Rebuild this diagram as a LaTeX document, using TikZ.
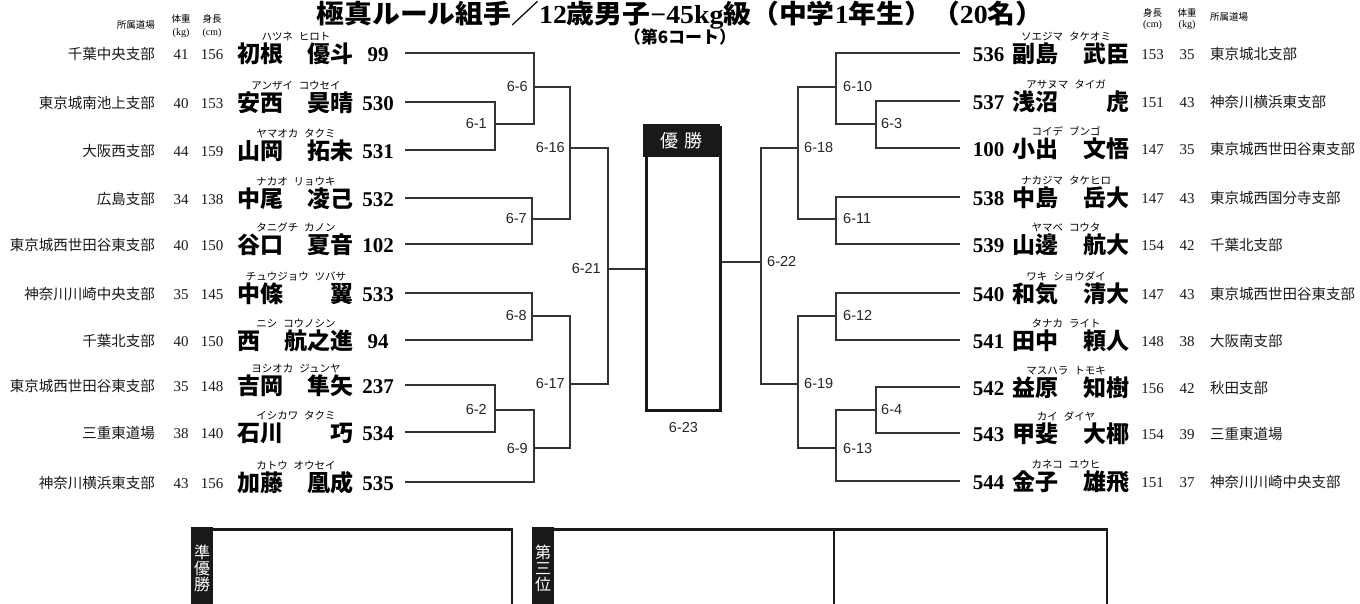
\documentclass[tikz,border=0pt]{standalone}
\usepackage{graphicx}
\usepackage{fontspec}
\setmainfont{Liberation Serif}
\newfontfamily\jp{Noto Sans CJK JP}
\newfontfamily\lab{Liberation Sans}
\newcommand\fsz[1]{\fontsize{#1}{#1}\selectfont}
\begin{document}
\begin{tikzpicture}[x=1pt,y=-1pt,
  lbl/.style={font=\lab\fsz{14.5}, inner sep=0pt, text=black!85},
  br/.style={line width=1.1pt, draw=black!80},
  dojo/.style={font=\jp\fsz{14.5}, inner sep=0pt, text=black!90},
  num/.style={font=\fsz{15}, inner sep=0pt, anchor=base, text=black!90},
  nm/.style={font=\jp\bfseries\fsz{23}, inner sep=0pt},
  bnum/.style={font=\bfseries\fsz{21}, inner sep=0pt, anchor=base},
  furi/.style={font=\jp\fsz{10.5}, inner sep=0pt, anchor=base},
  hd/.style={font=\jp\fsz{9.5}, inner sep=0pt},
  hdu/.style={font=\fsz{10}, inner sep=0pt},
]
\useasboundingbox (0,0) rectangle (1360,603);
\fill[white] (0,0) rectangle (1360,603);

% title
\node[anchor=base, inner sep=0pt] (title) at (680,23)
  {\scalebox{1.07}[1]{\fsz{26}{\jp\bfseries 極真ルール組手／}{\bfseries 12}{\jp\bfseries 歳男子}{\bfseries −45kg}{\jp\bfseries 級（中学}{\bfseries 1}{\jp\bfseries 年生）（}{\bfseries 20}{\jp\bfseries 名）}}};
\node[anchor=base, inner sep=0pt, font=\jp\bfseries\fsz{17}] (sub) at (680,43) {（第6コート）};

% headers left
\node[hd, anchor=east] (hL1) at (155,25) {所属道場};
\node[hd] (hL2) at (181,19) {体重};
\node[hdu] (hL3) at (181,33) {(kg)};
\node[hd] (hL4) at (212,19) {身長};
\node[hdu] (hL5) at (212,33) {(cm)};
% headers right
\node[hd] (hR1) at (1152.5,13) {身長};
\node[hdu] (hR2) at (1152.5,25) {(cm)};
\node[hd] (hR3) at (1187,13) {体重};
\node[hdu] (hR4) at (1187,25) {(kg)};
\node[hd, anchor=west] (hR5) at (1210,17) {所属道場};

% left players
\foreach \xid/\xy/\xdojo/\xw/\xh/\xfam/\xgiv/\xnum/\xra/\xrb in {
 1/53/千葉中央支部/41/156/初根/優斗/99/ハツネ/ヒロト,
 2/102/東京城南池上支部/40/153/安西/昊晴/530/アンザイ/コウセイ,
 3/150/大阪西支部/44/159/山岡/拓未/531/ヤマオカ/タクミ,
 4/198/広島支部/34/138/中尾/凌己/532/ナカオ/リョウキ,
 5/244/東京城西世田谷東支部/40/150/谷口/夏音/102/タニグチ/カノン,
 6/293/神奈川川崎中央支部/35/145/中條/翼/533/チュウジョウ/ツバサ,
 7/340/千葉北支部/40/150/西/航之進/94/ニシ/コウノシン,
 8/385/東京城西世田谷東支部/35/148/吉岡/隼矢/237/ヨシオカ/ジュンヤ,
 9/432/三重東道場/38/140/石川/巧/534/イシカワ/タクミ,
 10/482/神奈川横浜東支部/43/156/加藤/凰成/535/カトウ/オウセイ}{
  \node[dojo, anchor=base east] (Ld\xid) at (155,\xy+6.5) {\xdojo};
  \node[num] (Lw\xid) at (181,\xy+6) {\xw};
  \node[num] (Lh\xid) at (212,\xy+6) {\xh};
  \node[nm, anchor=base west] (Lf\xid) at (237,\xy+9.5) {\xfam};
  \node[nm, anchor=base east] (Lg\xid) at (354,\xy+9.5) {\xgiv};
  \node[bnum] (Ln\xid) at (378,\xy+8) {\xnum};
  \node[furi] (Lr\xid) at (296,\xy-13) {\xra\hspace{6pt}\xrb};
  \coordinate (p\xid) at (405,\xy);
}

% right players
\foreach \xid/\xy/\xnum/\xfam/\xgiv/\xh/\xw/\xdojo/\xra/\xrb in {
 1/53/536/副島/武臣/153/35/東京城北支部/ソエジマ/タケオミ,
 2/101/537/浅沼/虎/151/43/神奈川横浜東支部/アサヌマ/タイガ,
 3/148/100/小出/文悟/147/35/東京城西世田谷東支部/コイデ/ブンゴ,
 4/197/538/中島/岳大/147/43/東京城西国分寺支部/ナカジマ/タケヒロ,
 5/244/539/山邊/航大/154/42/千葉北支部/ヤマベ/コウタ,
 6/293/540/和気/清大/147/43/東京城西世田谷東支部/ワキ/ショウダイ,
 7/340/541/田中/頼人/148/38/大阪南支部/タナカ/ライト,
 8/387/542/益原/知樹/156/42/秋田支部/マスハラ/トモキ,
 9/433/543/甲斐/大椰/154/39/三重東道場/カイ/ダイヤ,
 10/481/544/金子/雄飛/151/37/神奈川川崎中央支部/カネコ/ユウヒ}{
  \node[bnum] (Rn\xid) at (988.5,\xy+8) {\xnum};
  \node[nm, anchor=base west] (Rf\xid) at (1012,\xy+9.5) {\xfam};
  \node[nm, anchor=base east] (Rg\xid) at (1130,\xy+9.5) {\xgiv};
  \node[num] (Rh\xid) at (1152.5,\xy+6) {\xh};
  \node[num] (Rw\xid) at (1187,\xy+6) {\xw};
  \node[dojo, anchor=base west] (Rd\xid) at (1210,\xy+6.5) {\xdojo};
  \node[furi] (Rr\xid) at (1066,\xy-13) {\xra\hspace{6pt}\xrb};
  \coordinate (q\xid) at (960,\xy);
}

% champion box
\fill[black!90] (643,124) rectangle (720,157);
\node[draw=black!90, line width=3pt, minimum width=74pt, minimum height=283pt,
      anchor=north west, inner sep=0pt] (champ) at (644.5,125.5) {};
\node[font=\jp\fsz{18}, text=white, inner sep=0pt] (champhd) at (681.5,141) {優\hspace{6pt}勝};
\node[lbl] (t623) at (683.5,428) {6-23};

% left bracket
\coordinate (m1) at (495,124);
\coordinate (m6) at (534,87);
\coordinate (m7) at (532,219);
\coordinate (m16) at (570,148);
\coordinate (m8) at (532,316);
\coordinate (m2) at (495,410);
\coordinate (m9) at (534,448);
\coordinate (m17) at (570,384);
\coordinate (m21) at (608,269);
\draw[br] (p2) -| (m1) |- (p3);
\draw[br] (p1) -| (m6) |- (m1);
\draw[br] (p4) -| (m7) |- (p5);
\draw[br] (m6) -| (m16) |- (m7);
\draw[br] (p6) -| (m8) |- (p7);
\draw[br] (p8) -| (m2) |- (p9);
\draw[br] (m2) -| (m9) |- (p10);
\draw[br] (m8) -| (m17) |- (m9);
\draw[br] (m16) -| (m21) |- (m17);
\draw[br, line width=1.6pt] (m21) -- (champ.west |- m21);
\node[lbl, anchor=east] (t61) at ([xshift=-8pt]m1) {6-1};
\node[lbl, anchor=east] (t66) at ([xshift=-6pt]m6) {6-6};
\node[lbl, anchor=east] (t67) at ([xshift=-5pt]m7) {6-7};
\node[lbl, anchor=east] (t616) at ([xshift=-5pt]m16) {6-16};
\node[lbl, anchor=east] (t68) at ([xshift=-5pt]m8) {6-8};
\node[lbl, anchor=east] (t62) at ([xshift=-8pt]m2) {6-2};
\node[lbl, anchor=east] (t69) at ([xshift=-6pt]m9) {6-9};
\node[lbl, anchor=east] (t617) at ([xshift=-5pt]m17) {6-17};
\node[lbl, anchor=east] (t621) at ([xshift=-7pt]m21) {6-21};

% right bracket
\coordinate (m3) at (876,124);
\coordinate (m10) at (836,87);
\coordinate (m11) at (836,219);
\coordinate (m18) at (798,148);
\coordinate (m12) at (836,316);
\coordinate (m4) at (876,410);
\coordinate (m13) at (836,448);
\coordinate (m19) at (798,384);
\coordinate (m22) at (761,262);
\draw[br] (q2) -| (m3) |- (q3);
\draw[br] (q1) -| (m10) |- (m3);
\draw[br] (q4) -| (m11) |- (q5);
\draw[br] (m10) -| (m18) |- (m11);
\draw[br] (q6) -| (m12) |- (q7);
\draw[br] (q8) -| (m4) |- (q9);
\draw[br] (m4) -| (m13) |- (q10);
\draw[br] (m12) -| (m19) |- (m13);
\draw[br] (m18) -| (m22) |- (m19);
\draw[br, line width=1.6pt] (m22) -- (champ.east |- m22);
\node[lbl, anchor=west] (t63) at ([xshift=5pt]m3) {6-3};
\node[lbl, anchor=west] (t610) at ([xshift=7pt]m10) {6-10};
\node[lbl, anchor=west] (t611) at ([xshift=7pt]m11) {6-11};
\node[lbl, anchor=west] (t618) at ([xshift=6pt]m18) {6-18};
\node[lbl, anchor=west] (t612) at ([xshift=7pt]m12) {6-12};
\node[lbl, anchor=west] (t64) at ([xshift=5pt]m4) {6-4};
\node[lbl, anchor=west] (t613) at ([xshift=7pt]m13) {6-13};
\node[lbl, anchor=west] (t619) at ([xshift=6pt]m19) {6-19};
\node[lbl, anchor=west] (t622) at ([xshift=6pt]m22) {6-22};

% bottom boxes
\fill[black!90] (191,527) rectangle (213,615);
\draw[black!90, line width=2.5pt] (192.25,529.25) rectangle (512,620);
\node[font=\jp\fsz{16}, text=white, align=center, inner sep=0pt] (ru) at (202,568)
  {\fontsize{16}{21.5}\selectfont 準\\優\\勝};
\fill[black!90] (532,527) rectangle (554,615);
\draw[black!90, line width=2.5pt] (533.25,529.25) rectangle (1107,620);
\draw[black!90, line width=1.2pt] (834,529) -- (834,615);
\node[font=\jp\fsz{16}, text=white, align=center, inner sep=0pt] (third) at (543,568)
  {\fontsize{16}{21.5}\selectfont 第\\三\\位};
\end{tikzpicture}
\end{document}
